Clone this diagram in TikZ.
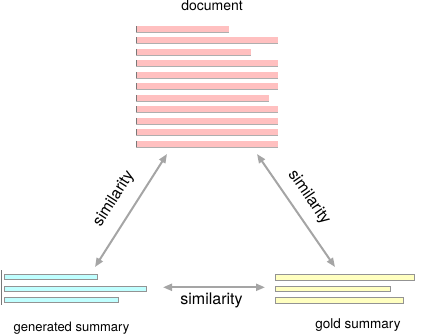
\documentclass[tikz,border=0pt]{standalone}
\usepackage{fontspec}
\setmainfont{TeX Gyre Heros}
\usetikzlibrary{arrows.meta}
\definecolor{docpink}{RGB}{255,192,192}
\definecolor{gencyan}{RGB}{192,255,255}
\definecolor{goldyel}{RGB}{255,255,192}
\definecolor{arrgray}{RGB}{165,165,165}
\definecolor{edgegray}{RGB}{120,120,120}
\tikzset{
  docbar/.style={fill=docpink},
  genbar/.style={fill=gencyan, draw=edgegray!80, line width=0.5pt},
  goldbar/.style={fill=goldyel, draw=edgegray!80, line width=0.5pt},
  leftmark/.style={draw=edgegray, line width=1pt},
  simarrow/.style={draw=arrgray, line width=2pt,
    {Triangle[length=9pt,width=7pt]}-{Triangle[length=9pt,width=7pt]}},
  lbl/.style={inner sep=0pt, font=\fontsize{13}{15}\selectfont},
  simlbl/.style={inner sep=0pt, font=\fontsize{16}{18}\selectfont}
}
\begin{document}
\begin{tikzpicture}[x=1pt,y=-1pt]
\useasboundingbox (0,0) rectangle (430,334);
% document bars
\foreach \i/\e in {0/229,1/278,2/251,3/278,4/278,5/278,6/269,7/278,8/278,9/278,10/278}{
  \path[docbar] (136,{26+11.47*\i}) rectangle (\e,{32+11.47*\i});
  \draw[draw=edgegray!60, line width=0.4pt] (136,{32+11.47*\i}) -- (\e,{32+11.47*\i});
  \draw[leftmark] (136.5,{26+11.47*\i}) -- (136.5,{32+11.47*\i});
}
\node[lbl, font=\fontsize{14}{16}\selectfont, anchor=base] (doc) at (212,10.5) {document};
% generated summary bars
\draw[leftmark, line width=0.8pt] (1,270) -- (1,305);
\path[genbar] (4,274) rectangle (97,279);
\path[genbar] (4,286) rectangle (146,291);
\path[genbar] (4,297.5) rectangle (118,302.5);
\node[lbl, anchor=base] (gen) at (71.5,331.5) {generated summary};
% gold summary bars
\path[goldbar] (275,274.3) rectangle (414,280);
\path[goldbar] (275,286) rectangle (390,291);
\path[goldbar] (275,297.3) rectangle (403,303);
\node[lbl, font=\fontsize{13.5}{15}\selectfont, anchor=base] (gold) at (358,328.5) {gold summary};
% arrow end points
\coordinate (docL) at (167,154);
\coordinate (docR) at (257,154);
\coordinate (genT) at (95,267);
\coordinate (genR) at (163,287.3);
\coordinate (goldT) at (335,267);
\coordinate (goldL) at (265,287.3);
\draw[simarrow] (genT) -- (docL);
\draw[simarrow] (docR) -- (goldT);
\draw[simarrow] (genR) -- (goldL);
\node[simlbl, rotate=57.5] (simL) at (114,199) {similarity};
\node[simlbl, rotate=-55.4] (simR) at (309,197.5) {similarity};
\node[simlbl, anchor=base] (simB) at (211.5,304.5) {similarity};
\end{tikzpicture}
\end{document}
